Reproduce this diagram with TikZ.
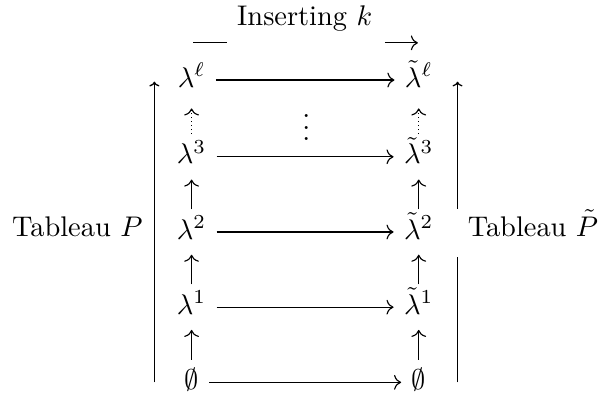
\documentclass[tikz,border=0pt]{standalone}
\usepackage{amsmath,amssymb}
\usepackage{tikz}
\usetikzlibrary{arrows.meta, positioning}

\begin{document}
\begin{tikzpicture}[
    obj/.style={inner xsep=3.5pt, inner ysep=4.3pt, text height=6pt, text depth=1pt},
    map/.style={-{Computer Modern Rightarrow}, thin},
    growup/.style={-{Computer Modern Rightarrow}, thin},
    growdots/.style={-{Computer Modern Rightarrow}, thin, densely dotted},
    tab/.style={-{Computer Modern Rightarrow[scale=0.65]}, line width=0.45pt},
    side/.style={inner sep=4pt}
]
    \useasboundingbox (0,0) rectangle (7.46,-4.94);

    % Left column: shapes of P
    \node[obj] (lamL) at (2.37, -0.99) {$\lambda^{\ell}$};
    \node[obj] (lam3) at (2.37, -1.94) {$\lambda^{3}$};
    \node[obj] (lam2) at (2.37, -2.87) {$\lambda^{2}$};
    \node[obj] (lam1) at (2.37, -3.80) {$\lambda^{1}$};
    \node[obj] (lam0) at (2.37, -4.73) {$\emptyset$};

    % Right column: shapes of P~
    \node[obj] (tlamL) at (5.18, -0.99) {$\tilde{\lambda}^{\ell}$};
    \node[obj] (tlam3) at (5.18, -1.94) {$\tilde{\lambda}^{3}$};
    \node[obj] (tlam2) at (5.18, -2.87) {$\tilde{\lambda}^{2}$};
    \node[obj] (tlam1) at (5.18, -3.80) {$\tilde{\lambda}^{1}$};
    \node[obj] (tlam0) at (5.18, -4.73) {$\emptyset$};

    \node[anchor=base] (vdots) at (3.79, -1.74) {$\vdots$};

    % Horizontal maps
    \draw[map] (lamL) -- (tlamL);
    \draw[map] (lam3) -- (tlam3);
    \draw[map] (lam2) -- (tlam2);
    \draw[map] (lam1) -- (tlam1);
    \draw[map] (lam0) -- (tlam0);

    % Growth upwards
    \draw[growup] (lam0) -- (lam1);
    \draw[growup] (lam1) -- (lam2);
    \draw[growup] (lam2) -- (lam3);
    \draw[growdots, shorten >=2pt] (lam3) -- (lamL);
    \draw[growup] (tlam0) -- (tlam1);
    \draw[growup] (tlam1) -- (tlam2);
    \draw[growup] (tlam2) -- (tlam3);
    \draw[growdots, shorten >=2pt] (tlam3) -- (tlamL);

    % Top arrow
    \node[anchor=base] (ins) at (3.77, -0.31) {Inserting $k$};
    \coordinate (insW) at (2.39, -0.53);
    \coordinate (gapW) at (2.81, -0.53);
    \coordinate (gapE) at (4.76, -0.53);
    \coordinate (insE) at (5.17, -0.53);
    \draw[thin] (insW) -- (gapW);
    \draw[map] (gapE) -- (insE);

    % Tableaux
    \coordinate (Pbot) at (1.91, -4.73);
    \coordinate (Ptop) at (1.91, -1.01);
    \coordinate (Qbot) at (5.66, -4.73);
    \coordinate (Qtop) at (5.66, -1.01);
    \draw[tab] (Pbot) -- (Ptop);
    \draw[tab] (Qbot) -- (Qtop);
    \node[side, anchor=base east] (tabP) at (1.91, -2.92) {Tableau $P$};
    \node[side, anchor=base west, fill=white, inner ysep=2.5pt, text height=7pt, text depth=5pt] (tabQ) at (5.64, -2.92) {Tableau $\tilde{P}$};

\end{tikzpicture}
\end{document}
